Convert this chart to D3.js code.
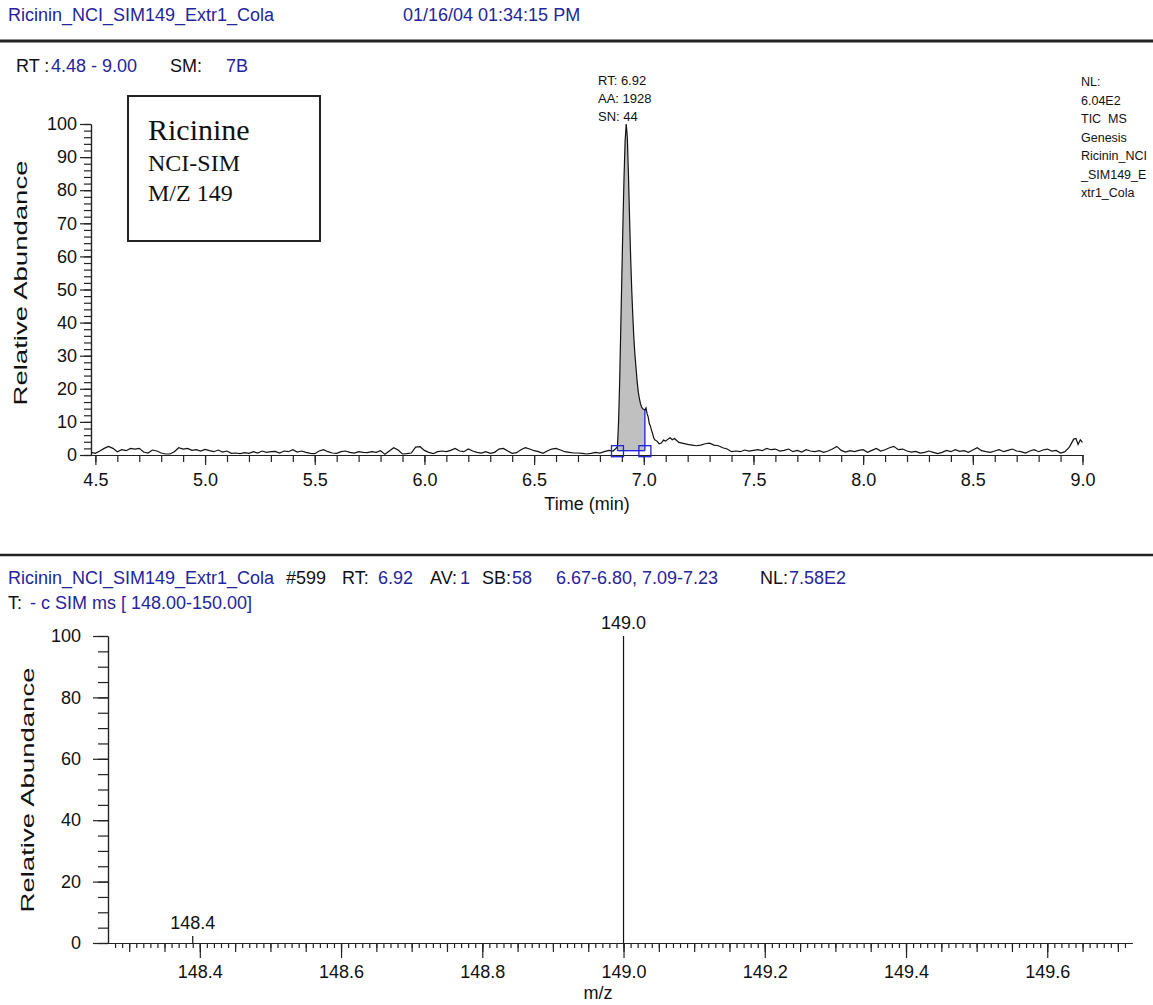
<!DOCTYPE html>
<html>
<head>
<meta charset="utf-8">
<script src="https://cdn.jsdelivr.net/npm/d3@7"></script>
<style>
	body { margin: 0; background: #fff; }
	text { font-family: "Liberation Sans", Arial, sans-serif; }
</style>
</head>
<body>
<div id="chart"></div>
<script>
//chromatogram trace: [time (min), relative abundance]
var ticTrace = [
	[4.48,0.8],[4.50,0.5],[4.52,1.2],[4.54,2.0],[4.56,2.6],[4.58,2.0],[4.60,1.0],[4.62,1.6],[4.64,1.3],[4.66,2.0],
	[4.68,1.8],[4.70,2.0],[4.72,0.9],[4.74,0.6],[4.76,1.5],[4.78,1.2],[4.80,0.6],[4.82,0.3],[4.84,0.3],[4.86,1.0],
	[4.88,2.2],[4.90,1.8],[4.92,2.0],[4.94,1.4],[4.96,1.6],[4.98,1.2],[5.00,1.7],[5.02,1.3],[5.04,1.0],[5.06,1.5],
	[5.08,0.9],[5.10,1.2],[5.12,0.5],[5.14,0.6],[5.16,0.4],[5.18,0.7],[5.20,0.5],[5.22,1.0],[5.24,0.6],[5.26,1.2],
	[5.28,0.8],[5.30,1.0],[5.32,1.1],[5.34,0.6],[5.36,1.2],[5.38,1.0],[5.40,1.6],[5.42,0.9],[5.44,1.2],[5.46,0.8],
	[5.48,0.5],[5.50,0.4],[5.52,1.2],[5.54,1.6],[5.56,1.0],[5.58,0.6],[5.60,0.5],[5.62,1.0],[5.64,1.2],[5.66,0.8],
	[5.68,0.6],[5.70,1.0],[5.72,0.8],[5.74,0.7],[5.76,1.0],[5.78,0.8],[5.80,1.3],[5.82,0.2],[5.84,1.2],[5.86,2.2],
	[5.88,1.5],[5.90,0.3],[5.92,0.4],[5.94,0.6],[5.96,2.4],[5.98,2.5],[6.00,1.4],[6.02,0.8],[6.04,0.4],[6.06,1.0],
	[6.08,1.2],[6.10,1.0],[6.12,1.4],[6.14,2.0],[6.16,1.2],[6.18,1.0],[6.20,1.8],[6.22,1.2],[6.24,0.8],[6.26,0.6],
	[6.28,1.0],[6.30,0.5],[6.32,0.8],[6.34,1.8],[6.36,2.0],[6.38,1.2],[6.40,0.5],[6.42,0.7],[6.44,1.6],[6.46,2.2],
	[6.48,1.8],[6.50,1.3],[6.52,1.0],[6.54,0.5],[6.56,1.2],[6.58,1.8],[6.60,2.0],[6.62,1.5],[6.64,1.0],[6.66,0.8],
	[6.68,0.6],[6.70,0.6],[6.72,0.5],[6.74,0.3],[6.76,0.5],[6.78,0.8],[6.80,0.6],[6.82,1.0],[6.84,1.4],[6.86,1.2],
	[6.87,1.8],[6.88,2.5],[6.885,10],[6.89,22],[6.895,38],[6.90,54],[6.905,70],[6.91,84],[6.915,95],[6.92,100],
	[6.925,96],[6.93,85],[6.935,72],[6.94,60],[6.945,50],[6.95,42],[6.955,35],[6.96,30],[6.965,26],[6.97,22],
	[6.975,19],[6.98,17],[6.985,15.5],[6.99,14.5],[6.995,14],[7.00,13.8],[7.005,13.5],[7.01,14.2],[7.015,12.5],[7.02,11.5],
	[7.025,9.5],[7.03,8.8],[7.035,7.5],[7.04,6.5],[7.045,5.2],[7.05,4.6],[7.06,4.2],[7.07,3.4],[7.08,3.6],[7.09,4.5],
	[7.10,4.2],[7.11,4.8],[7.12,5.2],[7.13,4.6],[7.14,5.0],[7.15,4.4],[7.16,3.8],[7.18,3.5],[7.20,3.2],[7.22,3.0],
	[7.24,2.8],[7.26,3.0],[7.28,3.4],[7.30,3.6],[7.32,3.0],[7.34,2.8],[7.36,2.2],[7.38,1.8],[7.40,1.0],[7.42,1.2],
	[7.44,1.0],[7.46,1.5],[7.48,1.2],[7.50,1.4],[7.52,1.6],[7.54,1.3],[7.56,2.0],[7.58,1.6],[7.60,1.8],[7.62,1.2],
	[7.64,1.4],[7.66,1.8],[7.68,1.0],[7.70,1.4],[7.72,0.9],[7.74,1.6],[7.76,1.2],[7.78,1.0],[7.80,1.3],[7.82,0.8],
	[7.84,1.2],[7.86,1.8],[7.88,2.6],[7.90,1.4],[7.92,0.9],[7.94,1.3],[7.96,1.0],[7.98,1.4],[8.00,1.6],[8.02,0.8],
	[8.04,1.4],[8.06,2.0],[8.08,1.2],[8.10,1.6],[8.12,2.2],[8.14,2.6],[8.16,1.6],[8.18,1.8],[8.20,1.2],[8.22,0.9],
	[8.24,1.1],[8.26,0.6],[8.28,0.8],[8.30,1.2],[8.32,0.8],[8.34,0.4],[8.36,0.8],[8.38,1.4],[8.40,1.0],[8.42,1.6],
	[8.44,1.1],[8.46,1.3],[8.48,0.8],[8.50,1.5],[8.52,2.2],[8.54,1.3],[8.56,1.0],[8.58,0.8],[8.60,1.2],[8.62,1.6],
	[8.64,1.0],[8.66,1.4],[8.68,1.8],[8.70,1.2],[8.72,1.0],[8.74,0.6],[8.76,1.2],[8.78,1.6],[8.80,1.0],[8.82,1.5],
	[8.84,1.8],[8.86,1.2],[8.88,1.4],[8.90,0.6],[8.92,1.0],[8.94,2.4],[8.96,4.8],[8.97,5.0],[8.98,3.2],[8.99,4.6],
	[9.00,3.8]
];
//integration limits of the peak
var peakStart = 6.88, peakEnd = 7.005, peakBase = 1.3;

var ticXTicks = [4.5, 5.0, 5.5, 6.0, 6.5, 7.0, 7.5, 8.0, 8.5, 9.0];
var ticYTicks = [0, 10, 20, 30, 40, 50, 60, 70, 80, 90, 100];

//mass spectrum sticks
var mzValues = [148.39, 149.00];
var mzAbund = [2.3, 100];
var mzLabels = ["148.4", "149.0"];
var mzXTicks = [148.4, 148.6, 148.8, 149.0, 149.2, 149.4, 149.6];
var mzYTicks = [0, 20, 40, 60, 80, 100];

//text blocks
var peakInfo = ["RT: 6.92", "AA: 1928", "SN: 44"];
var nlInfo = ["NL:", "6.04E2", "TIC  MS", "Genesis", "Ricinin_NCI", "_SIM149_E", "xtr1_Cola"];
var boxLines = ["Ricinine", "NCI-SIM", "M/Z 149"];

var BLUE = "#25259a", INK = "#111";

var svg = d3.select("#chart").append("svg")
	.attr("width", 1153)
	.attr("height", 1005)
	.style("display", "block");

//write pieces of text, each [string, colour, x]
function pieces(y, parts, size) {
	parts.forEach(function(p) {
		svg.append("text").attr("x", p[2]).attr("y", y).attr("fill", p[1])
			.style("font-size", size + "px").text(p[0]);
	});
}

/////////////////////////////////////////////////////////
/////////////////// Headers & rules /////////////////////
/////////////////////////////////////////////////////////

pieces(21, [["Ricinin_NCI_SIM149_Extr1_Cola", BLUE, 8], ["01/16/04 01:34:15 PM", BLUE, 403]], 18);
svg.append("line").attr("x1", 0).attr("x2", 1153).attr("y1", 41).attr("y2", 41)
	.style("stroke", "#222").style("stroke-width", 3);
pieces(72, [["RT :", INK, 16], ["4.48 - 9.00", BLUE, 51], ["SM:", INK, 170], ["7B", BLUE, 226]], 18);

svg.append("line").attr("x1", 0).attr("x2", 1153).attr("y1", 555).attr("y2", 555)
	.style("stroke", "#222").style("stroke-width", 2.5);
pieces(584, [["Ricinin_NCI_SIM149_Extr1_Cola", BLUE, 8], ["#599", INK, 286], ["RT:", INK, 342], ["6.92", BLUE, 378],
	["AV:", INK, 430], ["1", BLUE, 460], ["SB:", INK, 482], ["58", BLUE, 512], ["6.67-6.80, 7.09-7.23", BLUE, 556],
	["NL:", INK, 760], ["7.58E2", BLUE, 789]], 18);
pieces(609, [["T:", INK, 8], ["- c SIM ms [ 148.00-150.00]", BLUE, 30]], 18);

/////////////////////////////////////////////////////////
/////////////////// Chromatogram ////////////////////////
/////////////////////////////////////////////////////////

var x1 = d3.scaleLinear().domain([4.48, 9.0]).range([91, 1082.5]);
var y1 = d3.scaleLinear().domain([0, 100]).range([455, 124]);

//minor ticks
svg.append("g").attr("transform", "translate(0,455)")
	.call(d3.axisBottom(x1).tickValues(d3.range(4.5, 9.01, 0.1)).tickSize(7).tickSizeOuter(0).tickFormat(""));
svg.append("g").attr("transform", "translate(91,0)")
	.call(d3.axisLeft(y1).tickValues(d3.range(0, 101, 2)).tickSize(7).tickSizeOuter(0).tickFormat(""));
//major ticks + labels
svg.append("g").attr("class", "ax").attr("transform", "translate(0,455)")
	.call(d3.axisBottom(x1).tickValues(ticXTicks).tickSize(10).tickSizeOuter(0).tickPadding(8.5).tickFormat(d3.format(".1f")));
svg.append("g").attr("class", "ax").attr("transform", "translate(91,0)")
	.call(d3.axisLeft(y1).tickValues(ticYTicks).tickSize(11).tickSizeOuter(0).tickPadding(3).tickFormat(d3.format("d")));

svg.append("text").attr("x", 587).attr("y", 510).attr("text-anchor", "middle")
	.style("font-size", "18px").attr("fill", INK).text("Time (min)");
svg.append("text").attr("transform", "translate(27,283) rotate(-90)").attr("text-anchor", "middle")
	.attr("textLength", 245).attr("lengthAdjust", "spacingAndGlyphs")
	.style("font-size", "18px").attr("fill", INK).text("Relative Abundance");

//shaded peak area
var inPeak = ticTrace.filter(function(d) { return d[0] >= peakStart && d[0] <= peakEnd; });
svg.append("path")
	.datum(inPeak)
	.attr("d", d3.area().x(function(d) { return x1(d[0]); }).y0(y1(peakBase)).y1(function(d) { return y1(d[1]); }))
	.style("fill", "#c0c0c0");

//trace
svg.append("path")
	.datum(ticTrace)
	.attr("d", d3.line().x(function(d) { return x1(d[0]); }).y(function(d) { return y1(d[1]); }))
	.style("fill", "none").style("stroke", "#111").style("stroke-width", 1.2);

//integration markers
var yAt = function(t) { return inPeak.reduce(function(a, d) { return Math.abs(d[0] - t) < Math.abs(a[0] - t) ? d : a; })[1]; };
svg.append("line").attr("x1", x1(peakStart)).attr("x2", x1(peakEnd)).attr("y1", y1(peakBase)).attr("y2", y1(peakBase))
	.style("stroke", "#1f1fe0").style("stroke-width", 1.3);
[peakStart, peakEnd].forEach(function(t) {
	svg.append("line").attr("x1", x1(t)).attr("x2", x1(t)).attr("y1", y1(peakBase)).attr("y2", y1(yAt(t)))
		.style("stroke", "#1f1fe0").style("stroke-width", 1.3);
	svg.append("rect").attr("x", x1(t) - 6).attr("y", y1(peakBase) - 5).attr("width", 12).attr("height", 11)
		.style("fill", "none").style("stroke", "#1f1fe0").style("stroke-width", 1.3);
});

//peak label
svg.selectAll(".pinfo").data(peakInfo).join("text")
	.attr("x", 598).attr("y", function(d, i) { return 85 + i * 18; })
	.style("font-size", "13px").attr("fill", INK).text(function(d) { return d; });

//NL block
svg.selectAll(".nl").data(nlInfo).join("text")
	.attr("x", 1081).attr("y", function(d, i) { return 86 + i * 18.5; })
	.attr("xml:space", "preserve")
	.style("font-size", "12.5px").attr("fill", INK).text(function(d) { return d; });

//compound box
svg.append("rect").attr("x", 128).attr("y", 96).attr("width", 192).attr("height", 145)
	.style("fill", "none").style("stroke", "#222").style("stroke-width", 2);
svg.selectAll(".box").data(boxLines).join("text")
	.attr("x", 148).attr("y", function(d, i) { return [140, 171, 201][i]; })
	.style("font-family", "'Liberation Serif', 'Times New Roman', serif")
	.style("font-size", function(d, i) { return i === 0 ? "30px" : "24px"; })
	.attr("fill", INK).text(function(d) { return d; });

/////////////////////////////////////////////////////////
/////////////////// Mass spectrum ///////////////////////
/////////////////////////////////////////////////////////

var x2 = d3.scaleLinear().domain([148.27, 149.72]).range([108, 1132]);
var y2 = d3.scaleLinear().domain([0, 100]).range([943, 636]);

svg.append("g").attr("transform", "translate(0,943)")
	.call(d3.axisBottom(x2).tickValues(d3.range(148.28, 149.715, 0.01)).tickSize(5).tickSizeOuter(0).tickFormat(""));
svg.append("g").attr("transform", "translate(0,943)")
	.call(d3.axisBottom(x2).tickValues(d3.range(148.30, 149.715, 0.05)).tickSize(9).tickSizeOuter(0).tickFormat(""));
svg.append("g").attr("class", "ax").attr("transform", "translate(0,943)")
	.call(d3.axisBottom(x2).tickValues(mzXTicks).tickSize(15).tickSizeOuter(0).tickPadding(7.5).tickFormat(d3.format(".1f")));
svg.append("g").attr("transform", "translate(108,0)")
	.call(d3.axisLeft(y2).tickValues(d3.range(0, 101, 5)).tickSize(10).tickSizeOuter(0).tickFormat(""));
svg.append("g").attr("class", "ax").attr("transform", "translate(108,0)")
	.call(d3.axisLeft(y2).tickValues(mzYTicks).tickSize(15).tickSizeOuter(0).tickPadding(12).tickFormat(d3.format("d")));

svg.append("text").attr("x", 598).attr("y", 999).attr("text-anchor", "middle")
	.style("font-size", "18px").attr("fill", INK).text("m/z");
svg.append("text").attr("transform", "translate(34,790) rotate(-90)").attr("text-anchor", "middle")
	.attr("textLength", 245).attr("lengthAdjust", "spacingAndGlyphs")
	.style("font-size", "18px").attr("fill", INK).text("Relative Abundance");

//sticks
svg.selectAll(".stick").data(mzValues).join("line")
	.attr("x1", function(d) { return x2(d); }).attr("x2", function(d) { return x2(d); })
	.attr("y1", y2(0)).attr("y2", function(d, i) { return y2(mzAbund[i]); })
	.style("stroke", "#111").style("stroke-width", 1.2);
svg.selectAll(".stickLabel").data(mzValues).join("text")
	.attr("x", function(d) { return x2(d); }).attr("y", function(d, i) { return y2(mzAbund[i]) - 7; })
	.attr("text-anchor", "middle").style("font-size", "18px").attr("fill", INK)
	.text(function(d, i) { return mzLabels[i]; });

//axis styling
svg.selectAll(".domain, .tick line").style("stroke", "#222").style("stroke-width", 1.2);
svg.selectAll(".ax text").style("font-size", "18px").attr("fill", INK);
</script>
</body>
</html>
